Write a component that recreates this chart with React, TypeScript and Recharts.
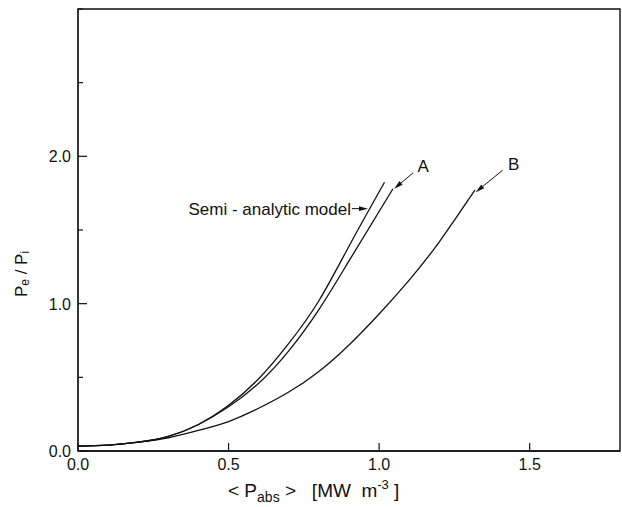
import React from 'react';
import { LineChart, Line, XAxis, YAxis, ReferenceArea, ReferenceDot, Label } from 'recharts';

// <P_abs> [MW m^-3] sample positions and P_e / P_i
const semiX = [0, 0.1, 0.2, 0.3, 0.4, 0.5, 0.6, 0.7, 0.8, 0.9, 1.018];
const semiY = [0.033, 0.04, 0.06, 0.1, 0.18, 0.31, 0.49, 0.73, 1.02, 1.39, 1.824];

const curveAX = [0, 0.1, 0.2, 0.3, 0.4, 0.5, 0.6, 0.7, 0.8, 0.9, 1.046];
const curveAY = [0.033, 0.04, 0.06, 0.1, 0.18, 0.3, 0.46, 0.68, 0.96, 1.29, 1.78];

const curveBX = [0, 0.1, 0.2, 0.3, 0.4, 0.5, 0.6, 0.7, 0.8, 0.9, 1.0, 1.1, 1.2, 1.318];
const curveBY = [0.033, 0.04, 0.06, 0.09, 0.14, 0.2, 0.29, 0.4, 0.54, 0.72, 0.93, 1.16, 1.42, 1.77];

const xTicks = [0, 0.5, 1.0, 1.5];
const yTicks = [0, 0.5, 1.0, 1.5, 2.0, 2.5, 3.0];
const yLabelled = [0, 1.0, 2.0];

const toPoints = (xs: number[], ys: number[]) => xs.map((x, i) => ({ x, y: ys[i] }));
const semiData = toPoints(semiX, semiY);
const aData = toPoints(curveAX, curveAY);
const bData = toPoints(curveBX, curveBY);

const FONT = '"Liberation Sans", Arial, sans-serif';
const INK = '#111';

const XTick = (props: any) => {
  const { x, y, payload } = props;
  return (
    <g>
      <line x1={x} x2={x} y1={y} y2={y - 8} stroke={INK} strokeWidth={1.2} />
      <text x={x} y={y + 19} textAnchor="middle" fontSize={16} fontFamily={FONT} fill={INK}>
        {Number(payload.value).toFixed(1)}
      </text>
    </g>
  );
};

const YTick = (props: any) => {
  const { x, y, payload } = props;
  const v = Number(payload.value);
  const major = yLabelled.includes(v);
  return (
    <g>
      <line x1={x} x2={x + (major ? 9 : 5)} y1={y} y2={y} stroke={INK} strokeWidth={1.2} />
      {major && (
        <text x={x - 7} y={y + 6} textAnchor="end" fontSize={16} fontFamily={FONT} fill={INK}>
          {v.toFixed(1)}
        </text>
      )}
    </g>
  );
};

// arrow from (cx+dx, cy+dy) to the curve point (cx, cy), label near the tail
const arrowTo = (text: string, dx: number, dy: number, tx: number, ty: number, anchor: string = 'middle') =>
  (props: any) => {
    const { cx, cy } = props;
    const len = Math.hypot(dx, dy);
    const ux = -dx / len;
    const uy = -dy / len;
    const hx = cx - ux * 9;
    const hy = cy - uy * 9;
    const px = -uy * 2.4;
    const py = ux * 2.4;
    return (
      <g>
        <line x1={cx + dx} y1={cy + dy} x2={hx} y2={hy} stroke={INK} strokeWidth={1} />
        <polygon points={`${cx},${cy} ${hx + px},${hy + py} ${hx - px},${hy - py}`} fill={INK} />
        <text x={cx + tx} y={cy + ty} textAnchor={anchor} fontSize={17} fontFamily={FONT} fill={INK} style={{ whiteSpace: 'pre' }}>
          {text}
        </text>
      </g>
    );
  };

const yTitle = (props: any) => {
  const { viewBox } = props;
  const cx = viewBox.x + 21;
  const cy = viewBox.y + 265;
  return (
    <text
      x={cx}
      y={cy}
      transform={`rotate(-90, ${cx}, ${cy})`}
      textAnchor="middle"
      fontSize={17}
      fontFamily={FONT}
      fill={INK}
      dominantBaseline="central"
      style={{ whiteSpace: 'pre' }}
    >
      P<tspan fontSize={12} dy={4}>e</tspan>
      <tspan dy={-4}>{' / P'}</tspan>
      <tspan fontSize={12} dy={4}>i</tspan>
    </text>
  );
};

const xTitle = (props: any) => {
  const { viewBox } = props;
  const x = viewBox.x + 150;
  const y = viewBox.y + 46;
  return (
    <text x={x} y={y} fontSize={19} fontFamily={FONT} fill={INK} style={{ whiteSpace: 'pre' }}>
      {'< P'}<tspan fontSize={14} dy={5}>abs</tspan>
      <tspan dy={-5}>{' >   [MW  m'}</tspan>
      <tspan fontSize={13} dy={-8}>-3</tspan>
      <tspan dy={8}>{' ]'}</tspan>
    </text>
  );
};

export default function App() {
  return (
    <div style={{ position: 'absolute', left: 0, top: 0, background: '#fff' }}>
      <LineChart width={622} height={507} margin={{ top: 9, right: 2, left: 0, bottom: 0 }}>
        <XAxis
          dataKey="x"
          type="number"
          domain={[0, 1.8]}
          ticks={xTicks}
          interval={0}
          tickSize={0}
          tickMargin={0}
          tick={<XTick />}
          height={56}
          allowDuplicatedCategory={false}
          axisLine={{ stroke: INK, strokeWidth: 1.6 }}
        >
          <Label content={xTitle} />
        </XAxis>
        <YAxis
          type="number"
          domain={[0, 3]}
          ticks={yTicks}
          interval={0}
          tickSize={0}
          tickMargin={0}
          tick={<YTick />}
          width={78}
          axisLine={{ stroke: '#333', strokeWidth: 1.8 }}
        >
          <Label content={yTitle} />
        </YAxis>
        <ReferenceArea x1={0} x2={1.8} y1={0} y2={3} fill="none" stroke={INK} strokeWidth={1.4} />
        <Line data={semiData} dataKey="y" type="natural" stroke={INK} strokeWidth={1.3} dot={false} isAnimationActive={false} />
        <Line data={aData} dataKey="y" type="natural" stroke={INK} strokeWidth={1.3} dot={false} isAnimationActive={false} />
        <Line data={bData} dataKey="y" type="natural" stroke={INK} strokeWidth={1.3} dot={false} isAnimationActive={false} />
        <ReferenceDot x={0.963} y={1.645} shape={arrowTo('Semi - analytic model', -16, 0, -17, 6, 'end')} />
        <ReferenceDot x={1.05} y={1.78} shape={arrowTo('A', 19, -16, 29, -17)} />
        <ReferenceDot x={1.321} y={1.757} shape={arrowTo('B', 27, -22, 38, -22)} />
      </LineChart>
    </div>
  );
}
